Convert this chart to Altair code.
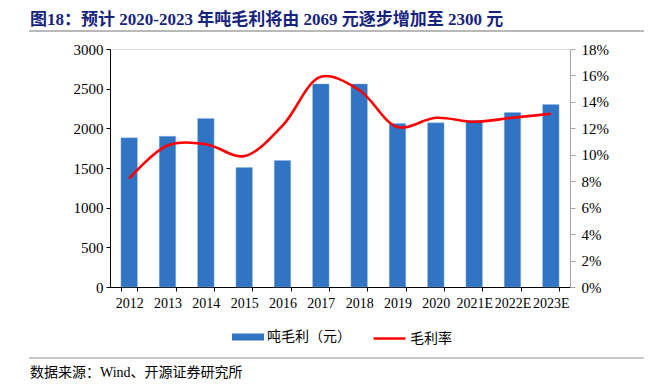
import altair as alt
import pandas as pd

years = ["2012", "2013", "2014", "2015", "2016", "2017", "2018", "2019", "2020", "2021E", "2022E", "2023E"]
profit = [1880, 1900, 2125, 1505, 1595, 2560, 2560, 2060, 2069, 2100, 2200, 2300]
margin = [0.082, 0.107, 0.108, 0.099, 0.122, 0.159, 0.149, 0.121, 0.128, 0.125, 0.128, 0.131]

bar_name = "吨毛利（元）"
line_name = "毛利率"
title_text = "图18：预计 2020-2023 年吨毛利将由 2069 元逐步增加至 2300 元"
source_text = "数据来源：Wind、开源证券研究所"

FONT = "'Liberation Serif', 'Times New Roman', 'Noto Sans CJK SC', serif"
CJK = "'Liberation Serif', 'Noto Sans CJK SC', sans-serif"

df = pd.DataFrame({"year": years, "profit": profit, "margin": margin,
                   "s1": bar_name, "s2": line_name})

W, H = 460, 238

x = alt.X("year:N", sort=years, title=None,
          scale=alt.Scale(paddingInner=0.57, paddingOuter=0.285),
          axis=alt.Axis(labelAngle=0, labelFont=FONT, labelFontSize=14, labelColor="#000",
                        domainColor="#000", tickColor="#000", tickSize=4, labelPadding=5,
                        tickBand="extent", grid=False))

bars = alt.Chart(df).mark_bar(stroke="#8DB3E2", strokeWidth=0.4).encode(
    x=x,
    y=alt.Y("profit:Q", title=None,
            scale=alt.Scale(domain=[0, 3000], nice=False),
            axis=alt.Axis(values=[0, 500, 1000, 1500, 2000, 2500, 3000], format="d", labelFont=FONT,
                          labelFontSize=15, labelColor="#000", domainColor="#000",
                          tickColor="#000", tickSize=4, labelPadding=3, grid=False)),
    color=alt.Color("s1:N", scale=alt.Scale(domain=[bar_name], range=["#3174C4"]),
                    legend=alt.Legend(title=None, orient="none", legendX=122, legendY=272,
                                      symbolType="M-1,-0.22L1,-0.22L1,0.22L-1,0.22Z",
                                      symbolSize=1024, symbolStrokeWidth=0,
                                      labelFont=CJK, labelFontSize=14, labelColor="#000",
                                      labelOffset=3, padding=0)),
)

line = alt.Chart(df).mark_line(strokeWidth=2.6, interpolate="catmull-rom").encode(
    x=x,
    y=alt.Y("margin:Q", title=None,
            scale=alt.Scale(domain=[0, 0.18], nice=False),
            axis=alt.Axis(orient="right", values=[0, 0.02, 0.04, 0.06, 0.08, 0.10, 0.12, 0.14, 0.16, 0.18],
                          format=".0%", labelFont=FONT, labelFontSize=15, labelColor="#000",
                          domainColor="#A6A6A6", tickColor="#A6A6A6", tickSize=5,
                          labelPadding=6, grid=False)),
    stroke=alt.Stroke("s2:N", scale=alt.Scale(domain=[line_name], range=["#FF0000"]),
                      legend=alt.Legend(title=None, orient="none", legendX=262, legendY=272,
                                        symbolType="stroke", symbolSize=1024,
                                        symbolStrokeWidth=2.6,
                                        labelFont=CJK, labelFontSize=14, labelColor="#000",
                                        labelOffset=3, padding=0)),
)

title_df = pd.DataFrame({"t": [title_text]})
src_df = pd.DataFrame({"t": [source_text]})
one = pd.DataFrame({"a": [0]})

title = alt.Chart(title_df).mark_text(
    align="left", baseline="alphabetic", font=FONT, fontSize=17, fontWeight="bold", color="#16237F"
).encode(text="t:N", x=alt.value(-80), y=alt.value(-24))

rule_top = alt.Chart(one).mark_rule(color="#A0A0A0", strokeWidth=1.5).encode(
    x=alt.value(-81), x2=alt.value(534), y=alt.value(-18))

rule_bot = alt.Chart(one).mark_rule(color="#909090", strokeWidth=1).encode(
    x=alt.value(-81), x2=alt.value(534), y=alt.value(309))

source = alt.Chart(src_df).mark_text(
    align="left", baseline="alphabetic", font=CJK, fontSize=14, color="#000"
).encode(text="t:N", x=alt.value(-80), y=alt.value(328))

chart = alt.layer(bars, line, title, rule_top, rule_bot, source).resolve_scale(
    y="independent", color="independent", stroke="independent"
).properties(
    width=W, height=H,
    autosize=alt.AutoSizeParams(type="none"),
    padding={"left": 102, "top": 41, "right": 85, "bottom": 100},
).configure_view(stroke=None).configure(background="#FFFFFF")

chart.save("out.html", embed_options={"renderer": "svg", "actions": False})
